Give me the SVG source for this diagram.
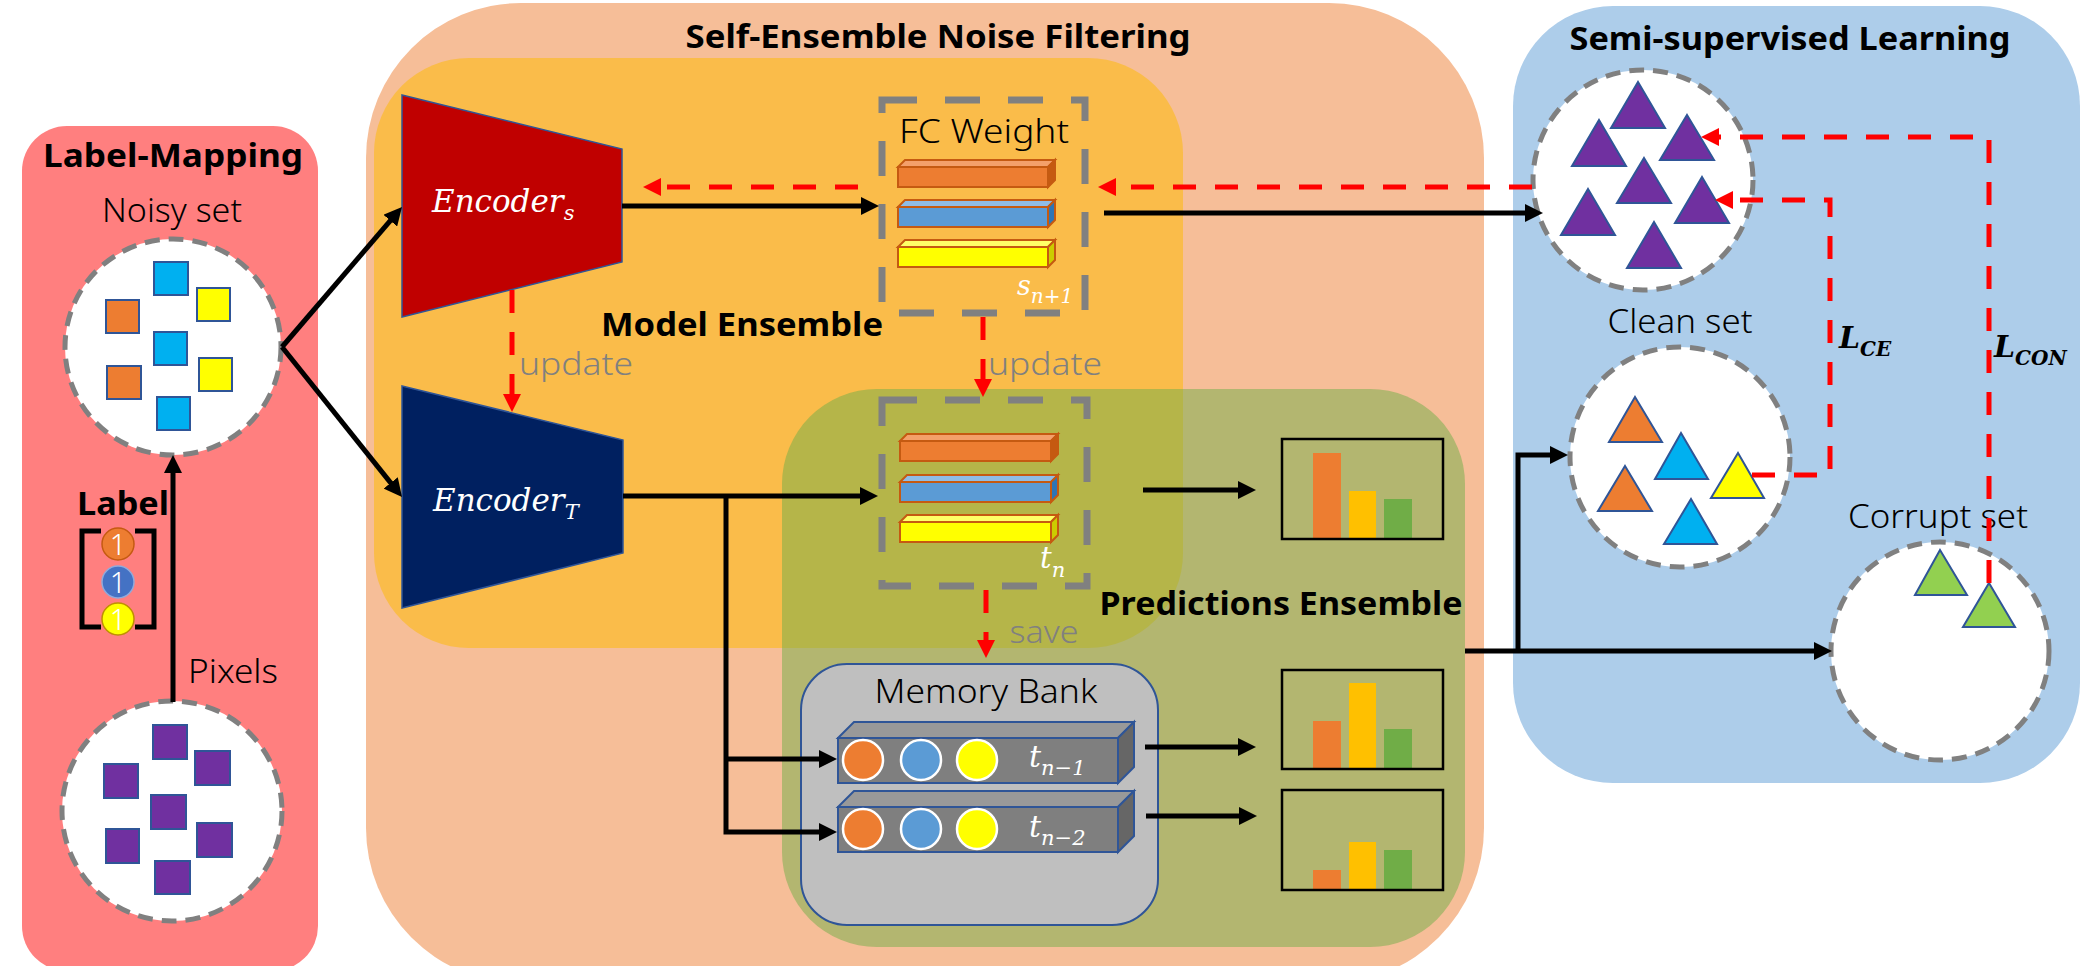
<svg xmlns="http://www.w3.org/2000/svg" width="2094" height="966" viewBox="0 0 2094 966">
<defs>
<style>
.t{font-family:"Noto Sans","Liberation Sans",sans-serif;font-weight:300;fill:#000}
.b{font-family:"Noto Sans","Liberation Sans",sans-serif;font-weight:bold;fill:#000}
.g{font-family:"Noto Sans","Liberation Sans",sans-serif;font-weight:300;fill:#808080}
.w{font-family:"Noto Sans","Liberation Sans",sans-serif;font-weight:300;fill:#fff}
.m{font-family:"DejaVu Serif","Liberation Serif",serif;font-style:italic;fill:#fff}
.mb{font-family:"DejaVu Serif","Liberation Serif",serif;font-style:italic;font-weight:bold;fill:#000}
.set{fill:#fff;stroke:#808080;stroke-width:5;stroke-dasharray:15 9}
.sq{stroke:#2F5597;stroke-width:2}
.tri{stroke:#2F5597;stroke-width:2}
.blk{fill:none;stroke:#000;stroke-width:5}
.red{fill:none;stroke:#FF0000;stroke-width:5;stroke-dasharray:23 19}
.box{fill:none;stroke:#808080;stroke-width:7;stroke-dasharray:35 28}
.bar{stroke:#C55A11;stroke-width:2}
.chart{fill:none;stroke:#000;stroke-width:2.5}
.row{stroke:#2F5597;stroke-width:2}
.dot{stroke:#fff;stroke-width:2.5}
</style>
<marker id="ab" markerUnits="userSpaceOnUse" markerWidth="18" markerHeight="18" viewBox="0 0 18 18" refX="6" refY="9" orient="auto"><path d="M0,0 L18,9 L0,18 z" fill="#000"/></marker>
<marker id="ar" markerUnits="userSpaceOnUse" markerWidth="18" markerHeight="18" viewBox="0 0 18 18" refX="6" refY="9" orient="auto"><path d="M0,0 L18,9 L0,18 z" fill="#FF0000"/></marker>
</defs>

<!-- panels -->
<g id="panel-label-mapping">
<rect x="22" y="126" width="296" height="845" rx="45" fill="#FF7F7F"/>
<text class="b" x="173" y="167" font-size="32" text-anchor="middle" textLength="260" lengthAdjust="spacingAndGlyphs">Label-Mapping</text>
</g>
<g id="panel-self-ensemble">
<rect x="366" y="3" width="1118" height="980" rx="155" fill="#F6BE98"/>
<text class="b" x="938" y="48" font-size="32" text-anchor="middle" textLength="505" lengthAdjust="spacingAndGlyphs">Self-Ensemble Noise Filtering</text>
</g>
<g id="panel-model-ensemble">
<rect x="374" y="58" width="809" height="590" rx="95" fill="#FABC4A"/>
</g>
<g id="panel-predictions-ensemble">
<rect x="782" y="389" width="683" height="558" rx="95" fill="#70AD47" fill-opacity="0.5"/>
</g>
<g id="panel-semi-supervised">
<rect x="1513" y="6" width="567" height="777" rx="100" fill="#ADCDEA"/>
<text class="b" x="1790" y="50" font-size="33" text-anchor="middle" textLength="441" lengthAdjust="spacingAndGlyphs">Semi-supervised Learning</text>
</g>

<!-- Label-mapping contents -->
<g id="noisy-set">
<text class="t" x="172" y="222" font-size="33" text-anchor="middle" textLength="140" lengthAdjust="spacingAndGlyphs">Noisy set</text>
<circle class="set" cx="173" cy="347" r="108"/>
<rect class="sq" x="154" y="262" width="34" height="33" fill="#00B0F0"/>
<rect class="sq" x="197" y="288" width="33" height="33" fill="#FFFF00"/>
<rect class="sq" x="106" y="300" width="33" height="33" fill="#ED7D31"/>
<rect class="sq" x="154" y="332" width="33" height="33" fill="#00B0F0"/>
<rect class="sq" x="199" y="358" width="33" height="33" fill="#FFFF00"/>
<rect class="sq" x="107" y="366" width="34" height="33" fill="#ED7D31"/>
<rect class="sq" x="157" y="397" width="33" height="33" fill="#00B0F0"/>
</g>
<g id="label">
<text class="b" x="123" y="515" font-size="33" text-anchor="middle" textLength="92" lengthAdjust="spacingAndGlyphs">Label</text>
<path d="M101,531 L82,531 L82,627 L101,627 M135,531 L154,531 L154,627 L135,627" fill="none" stroke="#000" stroke-width="5"/>
<circle cx="118" cy="544" r="16" fill="#ED7D31" stroke="#C55A11" stroke-width="1.5"/>
<circle cx="118" cy="582" r="16" fill="#4472C4" stroke="#8FAADC" stroke-width="1.5"/>
<circle cx="118" cy="619" r="16" fill="#FFFF00" stroke="#BF9000" stroke-width="1.5"/>
<text class="w" x="118" y="555" font-size="29" text-anchor="middle">1</text>
<text class="w" x="118" y="593" font-size="29" text-anchor="middle">1</text>
<text class="w" x="118" y="630" font-size="29" text-anchor="middle">1</text>
</g>
<g id="pixels">
<text class="t" x="188" y="683" font-size="33" textLength="90" lengthAdjust="spacingAndGlyphs">Pixels</text>
<circle class="set" cx="172" cy="811" r="110"/>
<rect class="sq" x="153" y="725" width="34" height="34" fill="#7030A0"/>
<rect class="sq" x="195" y="751" width="35" height="34" fill="#7030A0"/>
<rect class="sq" x="104" y="764" width="34" height="34" fill="#7030A0"/>
<rect class="sq" x="151" y="795" width="35" height="34" fill="#7030A0"/>
<rect class="sq" x="197" y="823" width="35" height="34" fill="#7030A0"/>
<rect class="sq" x="106" y="829" width="33" height="34" fill="#7030A0"/>
<rect class="sq" x="155" y="861" width="35" height="33" fill="#7030A0"/>
</g>

<!-- encoders -->
<g id="encoder-s">
<polygon points="402,95 622,149 622,262 402,317" fill="#C00000" stroke="#2F5597" stroke-width="1.5"/>
<text class="m" x="432" y="212" font-size="31">Encoder<tspan y="220" font-size="21">s</tspan></text>
</g>
<g id="encoder-t">
<polygon points="402,386 623,440 623,553 402,608" fill="#002060" stroke="#2F5597" stroke-width="1.5"/>
<text class="m" x="433" y="511" font-size="31">Encoder<tspan y="519" font-size="21">T</tspan></text>
</g>
<text class="b" x="742" y="336" font-size="33" text-anchor="middle" textLength="282" lengthAdjust="spacingAndGlyphs">Model Ensemble</text>

<!-- FC weight -->
<g id="fc-weight">
<rect class="box" x="882" y="100" width="203" height="213"/>
<text class="t" x="984" y="143" font-size="33" text-anchor="middle" textLength="170" lengthAdjust="spacingAndGlyphs">FC Weight</text>
<g class="bar">
<rect x="898" y="167" width="150" height="20" fill="#ED7D31"/>
<polygon points="898,167 905,160 1055,160 1048,167" fill="#F4A06A"/>
<polygon points="1048,167 1055,160 1055,180 1048,187" fill="#C55A11"/>
<rect x="898" y="207" width="150" height="20" fill="#5B9BD5"/>
<polygon points="898,207 905,200 1055,200 1048,207" fill="#8FBCE6"/>
<polygon points="1048,207 1055,200 1055,220 1048,227" fill="#2E75B6"/>
<rect x="898" y="247" width="150" height="20" fill="#FFFF00"/>
<polygon points="898,247 905,240 1055,240 1048,247" fill="#FFFF66"/>
<polygon points="1048,247 1055,240 1055,260 1048,267" fill="#CCCC00"/>
</g>
<text class="m" x="1017" y="295" font-size="27">s<tspan y="303" font-size="20">n+1</tspan></text>
</g>

<!-- t_n -->
<g id="teacher-weight">
<rect class="box" x="882" y="400" width="205" height="186"/>
<g class="bar">
<rect x="900" y="441" width="151" height="20" fill="#ED7D31"/>
<polygon points="900,441 907,434 1058,434 1051,441" fill="#F4A06A"/>
<polygon points="1051,441 1058,434 1058,454 1051,461" fill="#C55A11"/>
<rect x="900" y="482" width="151" height="20" fill="#5B9BD5"/>
<polygon points="900,482 907,475 1058,475 1051,482" fill="#8FBCE6"/>
<polygon points="1051,482 1058,475 1058,495 1051,502" fill="#2E75B6"/>
<rect x="900" y="522" width="151" height="20" fill="#FFFF00"/>
<polygon points="900,522 907,515 1058,515 1051,522" fill="#FFFF66"/>
<polygon points="1051,522 1058,515 1058,535 1051,542" fill="#CCCC00"/>
</g>
<text class="m" x="1040" y="568" font-size="29">t<tspan y="577" font-size="21">n</tspan></text>
</g>
<text class="b" x="1281" y="615" font-size="32" text-anchor="middle" textLength="363" lengthAdjust="spacingAndGlyphs">Predictions Ensemble</text>

<!-- memory bank -->
<g id="memory-bank">
<rect x="801" y="664" width="357" height="261" rx="46" fill="#BFBFBF" stroke="#2F5597" stroke-width="2"/>
<text class="t" x="986" y="703" font-size="33" text-anchor="middle" textLength="223" lengthAdjust="spacingAndGlyphs">Memory Bank</text>
<g class="row">
<rect x="838" y="738" width="280" height="45" fill="#7F7F7F"/>
<polygon points="838,738 854,722 1134,722 1118,738" fill="#999999"/>
<polygon points="1118,738 1134,722 1134,767 1118,783" fill="#666666"/>
<rect x="838" y="807" width="280" height="45" fill="#7F7F7F"/>
<polygon points="838,807 854,791 1134,791 1118,807" fill="#999999"/>
<polygon points="1118,807 1134,791 1134,836 1118,852" fill="#666666"/>
</g>
<circle class="dot" cx="863" cy="760" r="20" fill="#ED7D31"/>
<circle class="dot" cx="921" cy="760" r="20" fill="#5B9BD5"/>
<circle class="dot" cx="977" cy="760" r="20" fill="#FFFF00"/>
<circle class="dot" cx="863" cy="829" r="20" fill="#ED7D31"/>
<circle class="dot" cx="921" cy="829" r="20" fill="#5B9BD5"/>
<circle class="dot" cx="977" cy="829" r="20" fill="#FFFF00"/>
<text class="m" x="1029" y="767" font-size="30">t<tspan y="775" font-size="21">n−1</tspan></text>
<text class="m" x="1029" y="837" font-size="30">t<tspan y="845" font-size="21">n−2</tspan></text>
</g>

<!-- charts -->
<g id="chart-1">
<rect x="1313" y="453" width="28" height="86" fill="#ED7D31"/>
<rect x="1349" y="491" width="27" height="48" fill="#FFC000"/>
<rect x="1384" y="499" width="28" height="40" fill="#70AD47"/>
<rect class="chart" x="1282" y="439" width="161" height="100"/>
</g>
<g id="chart-2">
<rect x="1313" y="721" width="28" height="48" fill="#ED7D31"/>
<rect x="1349" y="683" width="27" height="86" fill="#FFC000"/>
<rect x="1384" y="729" width="28" height="40" fill="#70AD47"/>
<rect class="chart" x="1282" y="670" width="161" height="99"/>
</g>
<g id="chart-3">
<rect x="1313" y="870" width="28" height="20" fill="#ED7D31"/>
<rect x="1349" y="842" width="27" height="48" fill="#FFC000"/>
<rect x="1384" y="850" width="28" height="40" fill="#70AD47"/>
<rect class="chart" x="1282" y="790" width="161" height="100"/>
</g>

<!-- semi-supervised contents -->
<g id="unlabeled-set">
<circle class="set" cx="1643" cy="180" r="110"/>
<polygon class="tri" points="1638,82 1665,128 1611,128" fill="#7030A0"/>
<polygon class="tri" points="1599,120 1626,166 1572,166" fill="#7030A0"/>
<polygon class="tri" points="1687,115 1714,160 1660,160" fill="#7030A0"/>
<polygon class="tri" points="1644,158 1671,203 1617,203" fill="#7030A0"/>
<polygon class="tri" points="1588,189 1615,235 1561,235" fill="#7030A0"/>
<polygon class="tri" points="1702,177 1729,223 1675,223" fill="#7030A0"/>
<polygon class="tri" points="1654,222 1681,268 1627,268" fill="#7030A0"/>
</g>
<g id="clean-set">
<text class="t" x="1680" y="333" font-size="33" text-anchor="middle" textLength="145" lengthAdjust="spacingAndGlyphs">Clean set</text>
<circle class="set" cx="1680" cy="457" r="110"/>
<polygon class="tri" points="1635,397 1662,442 1609,442" fill="#ED7D31"/>
<polygon class="tri" points="1681,433 1708,479 1655,479" fill="#00B0F0"/>
<polygon class="tri" points="1625,466 1652,511 1598,511" fill="#ED7D31"/>
<polygon class="tri" points="1738,453 1764,498 1711,498" fill="#FFFF00"/>
<polygon class="tri" points="1691,499 1717,544 1664,544" fill="#00B0F0"/>
</g>
<g id="corrupt-set">
<text class="t" x="1938" y="528" font-size="33" text-anchor="middle" textLength="180" lengthAdjust="spacingAndGlyphs">Corrupt set</text>
<circle class="set" cx="1940" cy="651" r="109"/>
<polygon class="tri" points="1940,550 1967,595 1915,595" fill="#92D050"/>
<polygon class="tri" points="1989,583 2015,627 1963,627" fill="#92D050"/>
</g>

<!-- connectors -->
<g id="connectors">
<path class="blk" d="M173,702 L173,467" marker-end="url(#ab)"/>
<path class="blk" d="M282,347 L394.2,216.1" marker-end="url(#ab)"/>
<path class="blk" d="M282,347 L394.5,487.6" marker-end="url(#ab)"/>
<path class="blk" d="M622,206 L867,206" marker-end="url(#ab)"/>
<path class="blk" d="M1104,213 L1531,213" marker-end="url(#ab)"/>
<path class="blk" d="M623,496 L866,496" marker-end="url(#ab)"/>
<path class="blk" d="M726,494 L726,832 L825,832" marker-end="url(#ab)"/>
<path class="blk" d="M726,759 L825,759" marker-end="url(#ab)"/>
<path class="blk" d="M1143,490 L1244,490" marker-end="url(#ab)"/>
<path class="blk" d="M1145,747 L1244,747" marker-end="url(#ab)"/>
<path class="blk" d="M1146,816 L1245,816" marker-end="url(#ab)"/>
<path class="blk" d="M1465,651 L1820,651" marker-end="url(#ab)"/>
<path class="blk" d="M1518,651 L1518,455 L1556,455" marker-end="url(#ab)"/>
<path class="red" d="M1532,187 L1110,187" marker-end="url(#ar)"/>
<path class="red" d="M858,187 L655,187" marker-end="url(#ar)"/>
<path class="red" d="M512,290 L512,400" marker-end="url(#ar)"/>
<path class="red" d="M983,317 L983,385" marker-end="url(#ar)"/>
<path class="red" d="M986,590 L986,646" marker-end="url(#ar)"/>
<path class="red" d="M1989,583 L1989,137 L1713,137" marker-end="url(#ar)"/>
<path class="red" d="M1752,475 L1830,475 L1830,200 L1727,200" marker-end="url(#ar)"/>
<text class="mb" x="1839" y="348" font-size="30">L<tspan y="356" font-size="20">CE</tspan></text>
<text class="mb" x="1994" y="357" font-size="30">L<tspan y="365" font-size="20">CON</tspan></text>
<text class="g" x="576" y="375" font-size="32" text-anchor="middle" textLength="114" lengthAdjust="spacingAndGlyphs">update</text>
<text class="g" x="1045" y="375" font-size="32" text-anchor="middle" textLength="114" lengthAdjust="spacingAndGlyphs">update</text>
<text class="g" x="1044" y="643" font-size="32" text-anchor="middle" textLength="69" lengthAdjust="spacingAndGlyphs">save</text>
</g>
</svg>
